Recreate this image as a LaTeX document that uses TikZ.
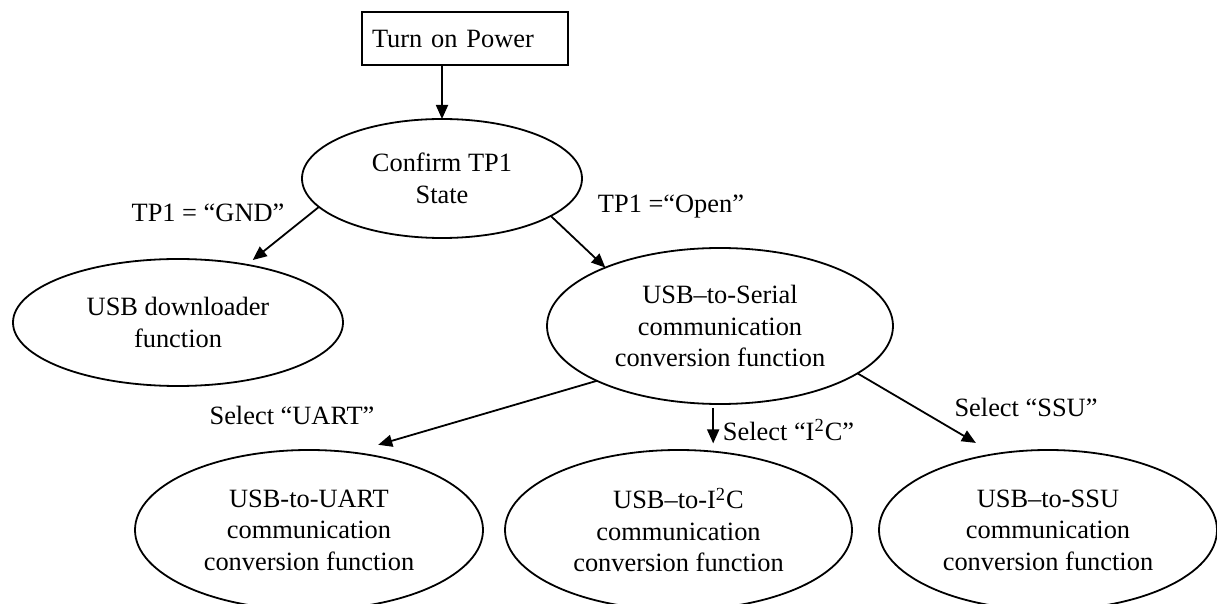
\documentclass[tikz,border=0pt]{standalone}
\usepackage{fontspec}
\setmainfont{Liberation Serif}
\usetikzlibrary{shapes.geometric,arrows.meta}
\begin{document}
\begin{tikzpicture}[x=0.5pt,y=-0.5pt,
  font=\fontsize{13.2}{15.8}\selectfont,
  line width=0.9pt,
  >={Triangle[length=7pt,width=6pt]},
  func/.style={draw,ellipse,inner sep=0pt,outer sep=0pt,align=center},
  lbl/.style={inner sep=0pt}]
\useasboundingbox (0,0) rectangle (1217,604);
\clip (0,0) rectangle (1217,604);

% Inicio
\node[draw,rectangle,inner xsep=5pt,text width=93pt,align=left,minimum height=26.5pt] (power) at (465,38.5) {Turn on Power};

% Funciones
\node[func,minimum width=140pt,minimum height=59.5pt] (confirm) at (442,178.5) {Confirm TP1\\State};
\node[func,minimum width=165pt,minimum height=63.5pt] (dl) at (178,322.5) {USB downloader\\function};
\node[func,minimum width=173pt,minimum height=78pt] (serial) at (720,326) {USB–to-Serial\\communication\\conversion function};
\node[func,minimum width=174pt,minimum height=80pt] (uart) at (309,530) {USB-to-UART\\communication\\conversion function};
\node[func,minimum width=173.5pt,minimum height=80pt] (i2c) at (678.5,530) {USB–to-I\textsuperscript{2}C\\communication\\conversion function};
\node[func,minimum width=169pt,minimum height=80pt] (ssu) at (1048,530) {USB–to-SSU\\communication\\conversion function};

% Etiquetas
\node[lbl] (gndlbl) at (208,213) {TP1 = “GND”};
\node[lbl] (openlbl) at (671,207) {TP1 =“Open”};
\node[lbl] (uartlbl) at (292,415) {Select “UART”};
\node[lbl,anchor=west] (i2clbl) at (722,430) {Select “I\textsuperscript{2}C”};
\node[lbl] (ssulbl) at (1026,407) {Select “SSU”};

% Flechas
\draw[->] (confirm.north |- power.south) -- (confirm.north);
\draw[->,shorten >=3.8pt] (confirm.193.5) -- (dl.40);
\draw[->] (confirm.341.3) -- (serial.153.8);
\draw[->,shorten >=13.7pt] (serial.204.9) -- (uart.61.8);
\draw[->,shorten <=2pt,shorten >=3.3pt] (serial.265) -- (serial.265 |- i2c.north);
\draw[->,shorten >=11pt] (serial.341.1) -- (ssu.125.5);

\end{tikzpicture}
\end{document}
